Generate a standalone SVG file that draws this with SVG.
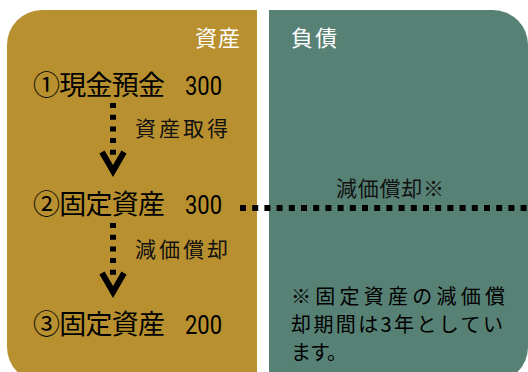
<svg xmlns="http://www.w3.org/2000/svg" width="528" height="372" viewBox="0 0 528 372">
<style>
.jp{font-family:"Noto Sans CJK JP","Noto Sans",sans-serif}
.main{font-size:27px;fill:#000}
.num{font-family:Roboto,"Liberation Sans",sans-serif;font-size:25px;fill:#000}
.lbl{font-size:21px;fill:#111}
.hdr{font-size:22px;fill:#fff}
.note{font-size:20px;fill:#000}
.dot{fill:none;stroke:#000;stroke-width:6}
.head{fill:none;stroke:#000;stroke-width:6;stroke-linejoin:miter;stroke-miterlimit:10}
</style>
<rect width="528" height="372" fill="#fff"/>
<g id="assets-panel">
<path d="M7,45 A35,35 0 0 1 42,10 H257 V382 H42 A35,35 0 0 1 7,347 Z" fill="#B8902F"/>
<text class="jp hdr" x="195" y="46" textLength="45">資産</text>
</g>
<g id="liabilities-panel">
<path d="M269,10 H493 A35,35 0 0 1 528,45 V347 A35,35 0 0 1 493,382 H269 Z" fill="#578175"/>
<text class="jp hdr" x="291" y="46" textLength="46">負債</text>
</g>
<g id="node-cash">
<text class="jp main" x="33" y="95" textLength="132">①現金預金</text>
<text class="num" x="185" y="95" textLength="37" lengthAdjust="spacingAndGlyphs">300</text>
</g>
<g id="node-fixed-300">
<text class="jp main" x="33" y="214" textLength="132">②固定資産</text>
<text class="num" x="185" y="214" textLength="37" lengthAdjust="spacingAndGlyphs">300</text>
</g>
<g id="node-fixed-200">
<text class="jp main" x="33" y="334" textLength="132">③固定資産</text>
<text class="num" x="185" y="334" textLength="37" lengthAdjust="spacingAndGlyphs">200</text>
</g>
<g id="note">
<text class="jp note" x="291" y="304" textLength="214">※固定資産の減価償</text>
<text class="jp note" x="291" y="332" textLength="212">却期間は3年としてい</text>
<text class="jp note" x="291" y="360" textLength="56">ます。</text>
</g>
<g id="connectors">
<line class="dot" x1="113" y1="103" x2="113" y2="160" stroke-dasharray="5 6.7"/>
<polyline class="head" points="102,152 113,171 124,152"/>
<text class="jp lbl" x="135" y="136" textLength="93">資産取得</text>
<line class="dot" x1="113" y1="223" x2="113" y2="280" stroke-dasharray="5 6.7"/>
<polyline class="head" points="102,273 113,292 124,273"/>
<text class="jp lbl" x="135" y="257" textLength="93">減価償却</text>
<line class="dot" x1="240" y1="208" x2="528" y2="208" stroke-dasharray="6 6.2"/>
<text class="jp lbl" x="336" y="196" textLength="108">減価償却※</text>
</g>
</svg>
